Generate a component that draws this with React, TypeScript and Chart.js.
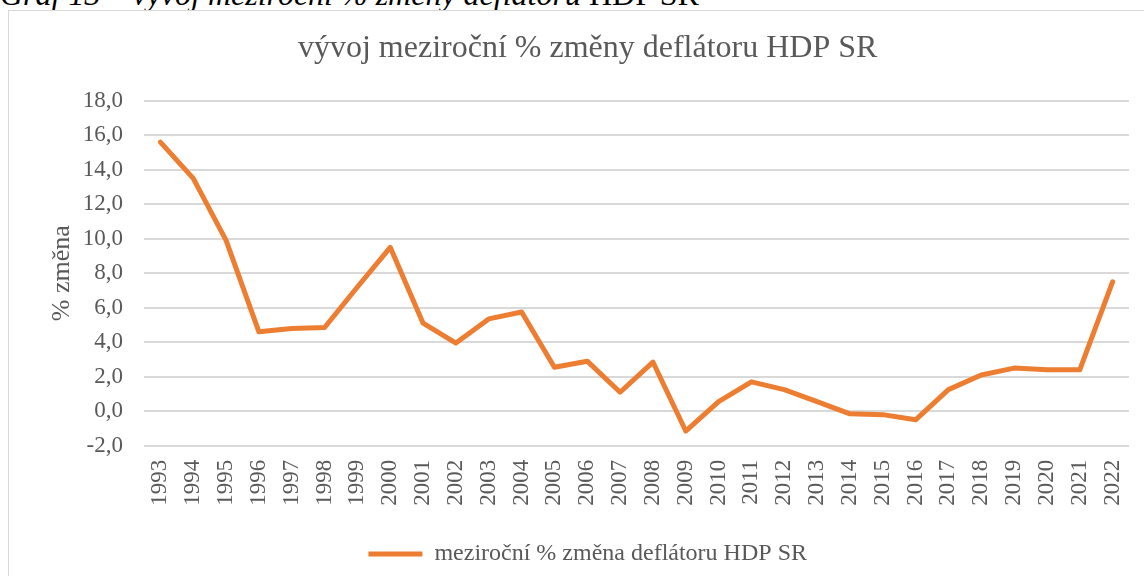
import React, { useEffect, useRef } from "react";
import { Chart, registerables } from "chart.js";

Chart.register(...registerables);

const years = [
  "1993", "1994", "1995", "1996", "1997", "1998", "1999", "2000", "2001", "2002",
  "2003", "2004", "2005", "2006", "2007", "2008", "2009", "2010", "2011", "2012",
  "2013", "2014", "2015", "2016", "2017", "2018", "2019", "2020", "2021", "2022",
];

const deflatorChange = [
  15.6, 13.5, 9.9, 4.6, 4.8, 4.85, 7.2, 9.5, 5.1, 3.95,
  5.35, 5.75, 2.55, 2.9, 1.1, 2.85, -1.15, 0.55, 1.7, 1.25,
  0.55, -0.15, -0.2, -0.5, 1.25, 2.1, 2.5, 2.4, 2.4, 7.5,
];

const yMin = -2;
const yMax = 18;
const yStep = 2;

const captionItalic = "Graf 13 – vývoj meziroční % změny deflátoru";
const captionUpright = " HDP SR";
const chartTitle = "vývoj meziroční % změny deflátoru HDP SR";
const seriesLabel = "meziroční % změna deflátoru HDP SR";
const yAxisTitle = "% změna";

const SERIF = "'Liberation Serif', 'Times New Roman', serif";
const TEXT = "#595959";
const ORANGE = "#ED7D31";

export default function App() {
  const canvasRef = useRef<HTMLCanvasElement | null>(null);

  useEffect(() => {
    const canvas = canvasRef.current;
    if (!canvas) return;
    const chart = new Chart(canvas, {
      type: "line",
      data: {
        labels: years,
        datasets: [
          {
            label: seriesLabel,
            data: deflatorChange,
            borderColor: ORANGE,
            backgroundColor: ORANGE,
            borderWidth: 5,
            borderJoinStyle: "round",
            borderCapStyle: "round",
            pointRadius: 0,
            pointStyle: "line",
            tension: 0,
            fill: false,
          },
        ],
      },
      options: {
        responsive: false,
        animation: false,
        layout: { padding: { left: 37.4, right: 30, top: 0, bottom: 5 } },
        plugins: {
          title: {
            display: true,
            text: chartTitle,
            color: TEXT,
            font: { family: SERIF, size: 32, weight: "normal" },
            padding: { top: 18.3, bottom: 33 },
          },
          legend: {
            display: true,
            position: "bottom",
            labels: {
              color: TEXT,
              font: { family: SERIF, size: 24 },
              usePointStyle: true,
              pointStyleWidth: 54,
              padding: 10,
            },
          },
          tooltip: { enabled: false },
        },
        scales: {
          x: {
            type: "category",
            offset: true,
            grid: { display: false, drawTicks: false },
            border: { display: false },
            ticks: {
              autoSkip: false,
              maxRotation: 90,
              minRotation: 90,
              padding: 14,
              color: TEXT,
              font: { family: SERIF, size: 23 },
            },
            afterFit: (scale: any) => {
              scale.height = 86.3;
            },
          },
          y: {
            min: yMin,
            max: yMax,
            grid: { color: "#d9d9d9", lineWidth: 2, drawTicks: false },
            border: { display: false },
            ticks: {
              stepSize: yStep,
              padding: 21,
              color: TEXT,
              font: { family: SERIF, size: 23 },
              callback: (v: any) => Number(v).toFixed(1).replace(".", ","),
            },
            title: {
              display: true,
              text: yAxisTitle,
              color: TEXT,
              font: { family: SERIF, size: 26 },
              padding: 0,
            },
            afterFit: (scale: any) => {
              scale.width = 97.6;
            },
          },
        },
      },
    });
    return () => chart.destroy();
  }, []);

  return (
    <div
      style={{
        position: "fixed",
        left: 0,
        top: 0,
        width: 1144,
        height: 576,
        overflow: "hidden",
        background: "#fff",
      }}
    >
      <div
        style={{
          position: "absolute",
          left: 0,
          top: -22,
          fontFamily: SERIF,
          fontSize: 32,
          lineHeight: "32px",
          color: "#000",
          whiteSpace: "nowrap",
        }}
      >
        <i>{captionItalic}</i>
        <span>{captionUpright}</span>
      </div>
      <div
        style={{
          position: "absolute",
          left: 8,
          top: 10,
          width: 1150,
          height: 600,
          border: "1px solid #d9d9d9",
          background: "#fff",
        }}
      >
        <canvas ref={canvasRef} width={1150} height={570} style={{ display: "block" }} />
      </div>
    </div>
  );
}
